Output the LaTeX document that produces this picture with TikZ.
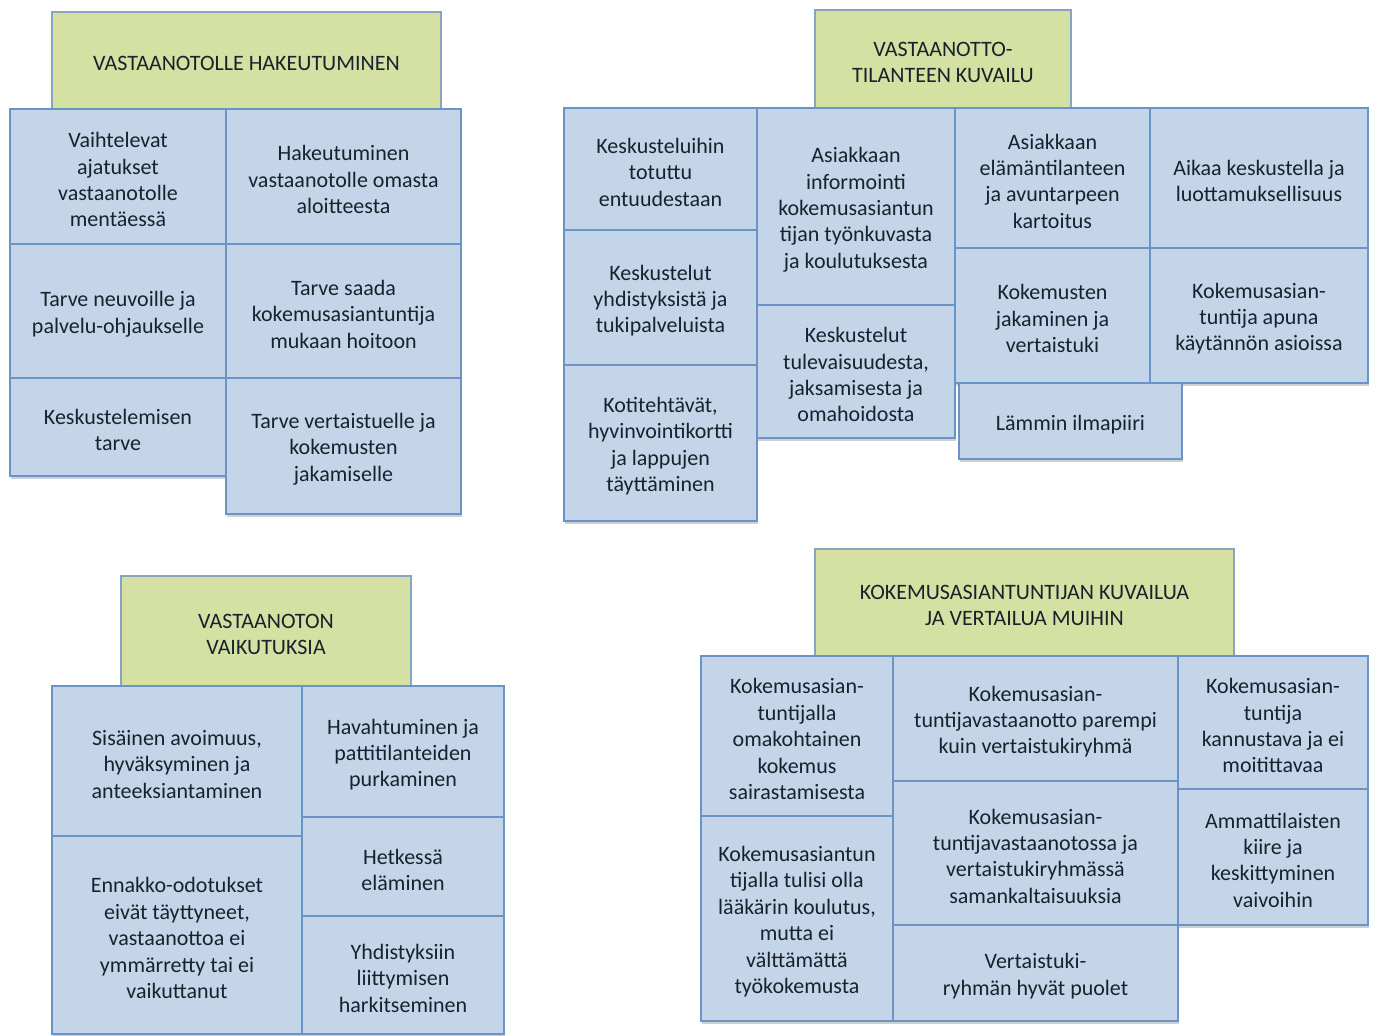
\documentclass[tikz,border=0pt]{standalone}
\usepackage{fontspec}
\setmainfont{Carlito}
\usetikzlibrary{shadows}
\definecolor{boxfill}{HTML}{C4D5EA}
\definecolor{boxline}{HTML}{6A94C6}
\definecolor{headfill}{HTML}{D5E1A3}
\definecolor{headline}{HTML}{88A4C0}
\definecolor{txt}{HTML}{18222C}
\tikzset{
  cell/.style={draw=boxline, fill=boxfill, line width=0.8pt, inner sep=0pt, outer sep=0pt,
    drop shadow={shadow xshift=0.6pt, shadow yshift=-1.3pt, opacity=0.3, fill=black!60}},
  headcell/.style={cell, draw=headline, fill=headfill},
  celltext/.style={inner sep=0pt, align=center, text=txt, font=\fontsize{11}{13.2}\selectfont}
}
% \boxat{style}{name}{x1}{y1}{x2}{y2}{text}  (pixel coordinates, y downwards)
\newcommand\boxat[7]{%
  \node[#1, minimum width={(#5-#3)*0.5pt}, minimum height={(#6-#4)*0.5pt}]
    (#2) at ({(#3+#5)/2},{(#4+#6)/2}) {};
  \node[celltext] (#2-t) at ([yshift=-1.6pt]#2.center) {#7};}
\begin{document}
\begin{tikzpicture}[x=0.5pt,y=-0.5pt]
\useasboundingbox (0,0) rectangle (1378,1036);
\fill[white] (0,0) rectangle (1378,1036);
% ---- Group 1
\boxat{headcell}{h1}{52}{12}{441}{109}{VASTAANOTOLLE HAKEUTUMINEN}
\boxat{cell}{a11}{10}{109}{226}{244}{Vaihtelevat\\ajatukset\\vastaanotolle\\mentäessä}
\boxat{cell}{a12}{10}{244}{226}{378}{Tarve neuvoille ja\\palvelu-ohjaukselle}
\boxat{cell}{a13}{10}{378}{226}{476}{Keskustelemisen\\tarve}
\boxat{cell}{a21}{226}{109}{461}{244}{Hakeutuminen\\vastaanotolle omasta\\aloitteesta}
\boxat{cell}{a22}{226}{244}{461}{378}{Tarve saada\\kokemusasiantuntija\\mukaan hoitoon}
\boxat{cell}{a23}{226}{378}{461}{514}{Tarve vertaistuelle ja\\kokemusten\\jakamiselle}
% ---- Group 2
\boxat{headcell}{h2}{815}{10}{1071}{108}{VASTAANOTTO-\\TILANTEEN KUVAILU}
\boxat{cell}{b11}{564}{108}{757}{230}{Keskusteluihin\\totuttu\\entuudestaan}
\boxat{cell}{b12}{564}{230}{757}{365}{Keskustelut\\yhdistyksistä ja\\tukipalveluista}
\boxat{cell}{b13}{564}{365}{757}{521}{Kotitehtävät,\\hyvinvointikortti\\ja lappujen\\täyttäminen}
\boxat{cell}{b21}{757}{108}{955}{305}{Asiakkaan\\informointi\\kokemusasiantun\\tijan työnkuvasta\\ja koulutuksesta}
\boxat{cell}{b22}{757}{305}{955}{438}{Keskustelut\\tulevaisuudesta,\\jaksamisesta ja\\omahoidosta}
\boxat{cell}{b31}{955}{108}{1150}{248}{Asiakkaan\\elämäntilanteen\\ja avuntarpeen\\kartoitus}
\boxat{cell}{b32}{955}{248}{1150}{383}{Kokemusten\\jakaminen ja\\vertaistuki}
\boxat{cell}{b41}{1150}{108}{1368}{248}{Aikaa keskustella ja\\luottamuksellisuus}
\boxat{cell}{b42}{1150}{248}{1368}{383}{Kokemusasian-\\tuntija apuna\\käytännön asioissa}
\boxat{cell}{b33}{959}{383}{1182}{459}{Lämmin ilmapiiri}
% ---- Group 3
\boxat{headcell}{h3}{121}{576}{411}{686}{VASTAANOTON\\VAIKUTUKSIA}
\boxat{cell}{c11}{52}{686}{302}{836}{Sisäinen avoimuus,\\hyväksyminen ja\\anteeksiantaminen}
\boxat{cell}{c12}{52}{836}{302}{1034}{Ennakko-odotukset\\eivät täyttyneet,\\vastaanottoa ei\\ymmärretty tai ei\\vaikuttanut}
\boxat{cell}{c21}{302}{686}{504}{817}{Havahtuminen ja\\pattitilanteiden\\purkaminen}
\boxat{cell}{c22}{302}{817}{504}{916}{Hetkessä\\eläminen}
\boxat{cell}{c23}{302}{916}{504}{1034}{Yhdistyksiin\\liittymisen\\harkitseminen}
% ---- Group 4
\boxat{headcell}{h4}{815}{549}{1234}{656}{KOKEMUSASIANTUNTIJAN KUVAILUA\\JA VERTAILUA MUIHIN}
\boxat{cell}{d11}{701}{656}{893}{816}{Kokemusasian-\\tuntijalla\\omakohtainen\\kokemus\\sairastamisesta}
\boxat{cell}{d12}{701}{816}{893}{1021}{Kokemusasiantun\\tijalla tulisi olla\\lääkärin koulutus,\\mutta ei\\välttämättä\\työkokemusta}
\boxat{cell}{d21}{893}{656}{1178}{781}{Kokemusasian-\\tuntijavastaanotto parempi\\kuin vertaistukiryhmä}
\boxat{cell}{d22}{893}{781}{1178}{925}{Kokemusasian-\\tuntijavastaanotossa ja\\vertaistukiryhmässä\\samankaltaisuuksia}
\boxat{cell}{d23}{893}{925}{1178}{1021}{Vertaistuki-\\ryhmän hyvät puolet}
\boxat{cell}{d31}{1178}{656}{1368}{789}{Kokemusasian-\\tuntija\\kannustava ja ei\\moitittavaa}
\boxat{cell}{d32}{1178}{789}{1368}{925}{Ammattilaisten\\kiire ja\\keskittyminen\\vaivoihin}
\end{tikzpicture}
\end{document}
